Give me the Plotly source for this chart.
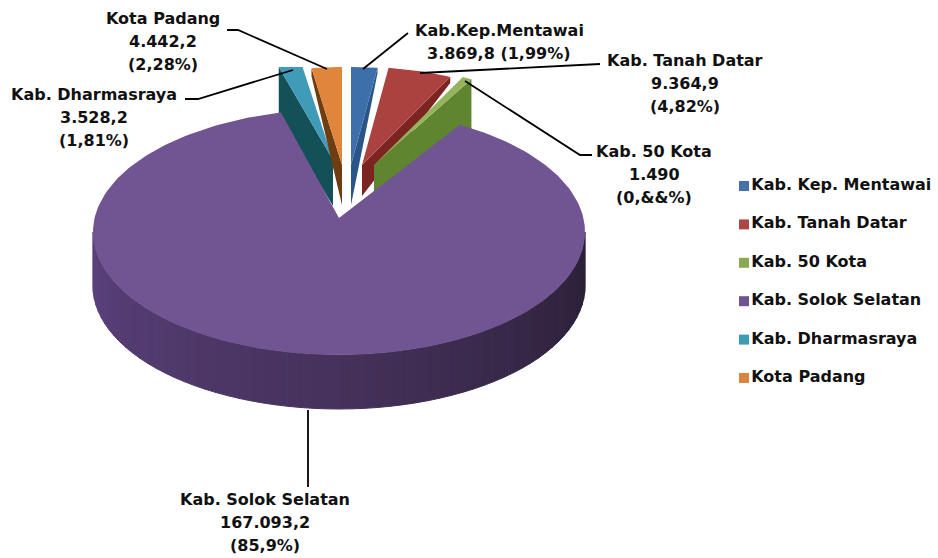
"""Pie 3D (kabupaten), proiezione ellittica calcolata dai valori."""
import numpy as np
import plotly.graph_objects as go

CATEGORIES = ["Kab. Kep. Mentawai", "Kab. Tanah Datar", "Kab. 50 Kota",
              "Kab. Solok Selatan", "Kab. Dharmasraya", "Kota Padang"]
VALUES = [3869.8, 9364.9, 1490.0, 167093.2, 3528.2, 4442.2]
LABEL_NAMES = ["Kab.Kep.Mentawai", "Kab. Tanah Datar", "Kab. 50 Kota",
               "Kab. Solok Selatan", "Kab. Dharmasraya", "Kota Padang"]
LABEL_VALUES = ["3.869,8 (1,99%)", "9.364,9", "1.490", "167.093,2", "3.528,2", "4.442,2"]
LABEL_SHARES = ["", "(4,82%)", "(0,&&%)", "(85,9%)", "(1,81%)", "(2,28%)"]

COLORS = ["#3d70aa", "#ab423f", "#94b35a", "#715592", "#3f9bb8", "#e0863c"]
SIDE_COLORS = ["#2a5588", "#7c2420", "#5f8530", "", "#145058", "#6e3d12"]
LEGEND_COLORS = ["#4672a8", "#ab4744", "#8aa84e", "#70548f", "#3f9bb3", "#dc8440"]
RIM_LEFT, RIM_MID, RIM_RIGHT = (92, 66, 126), (70, 50, 92), (42, 31, 54)

W, H = 938, 558
CX, CY, RX, RY, DEPTH = 339, 232, 246, 123, 54
APEX_Y = 218
CROP_Y = 67  # le fette esplose sono tagliate in alto
SMALL_RX, SMALL_RY = 208, 105
BIG_ROTATION = np.radians(1.5)

# fette esplose: apice (x, y), base dell'apice, spessore sul bordo
APEX_X = {0: 351, 1: 362, 2: 374, 4: 333, 5: 342}
APEX_TOP = {0: 165, 1: 165, 2: 165, 4: 160, 5: 165}
APEX_BOTTOM = {0: 205, 1: 196, 2: 196, 4: 206, 5: 205}
EDGE_DEPTH = {0: 5, 1: 6, 2: 50, 4: 50, 5: 8}

LABEL_X = [499, 685, 654, 265, 94, 163]
LABEL_Y = [30, 60, 151, 499, 94, 18]
LABEL_STEP = 23
LEADERS = [
    ([408, 363], [33, 69]),
    ([600, 420], [64, 73]),
    ([592, 580, 465], [155, 155, 81]),
    ([308, 308], [410, 487]),
    ([185, 198, 293], [99, 99, 70]),
    ([227, 238, 327], [30, 30, 69]),
]
LEGEND_X, LEGEND_Y, LEGEND_STEP = 744, 186, 38.4
FONT = "DejaVu Sans"
FONT_SIZE = 16

fractions = np.array(VALUES) / sum(VALUES)
ends = np.cumsum(fractions) * 2 * np.pi
starts = ends - fractions * 2 * np.pi


def polygon(fig, x, y, color, outline=False):
    fig.add_trace(go.Scatter(
        x=x, y=np.maximum(y, CROP_Y), mode="lines", fill="toself", fillcolor=color,
        line=dict(width=1 if outline else 0, color=color), hoverinfo="skip", showlegend=False,
    ))


def mix(a, b, t):
    return "rgb(%d,%d,%d)" % tuple(a[i] + (b[i] - a[i]) * t for i in range(3))


def exploded_slice(fig, i):
    """Una fetta esplosa: faccia laterale sotto, superficie sopra."""
    ax, ay = APEX_X[i], APEX_TOP[i]
    cy = ay + 7
    t = np.linspace(starts[i], ends[i], 16)
    arc_x = ax + SMALL_RX * np.sin(t)
    arc_y = cy - SMALL_RY * np.cos(t)
    k = -1 if i < 3 else 0  # a destra si vede il taglio destro, a sinistra il sinistro
    polygon(fig,
            [arc_x[k], ax, ax, arc_x[k], arc_x[k]],
            [arc_y[k], ay, APEX_BOTTOM[i], arc_y[k] + EDGE_DEPTH[i], arc_y[k]],
            SIDE_COLORS[i])
    polygon(fig, np.r_[ax, arc_x, ax], np.r_[ay, arc_y, ay], COLORS[i])


fig = go.Figure()

for i in (4, 5, 0, 1, 2):
    exploded_slice(fig, i)

# bordo della fetta grande, a settori per la sfumatura
edges = np.linspace(np.pi / 2, 3 * np.pi / 2, 61)
for a, b in zip(edges[:-1], edges[1:]):
    t = np.linspace(a, b, 4)
    px = CX + RX * np.sin(t)
    py = CY - RY * np.cos(t)
    pos = (a - edges[0]) / np.pi  # 0 a destra, 1 a sinistra
    shade = mix(RIM_RIGHT, RIM_MID, pos / 0.5) if pos < 0.5 else mix(RIM_MID, RIM_LEFT, (pos - 0.5) / 0.5)
    polygon(fig, np.r_[px, px[::-1], px[0]], np.r_[py, py[::-1] + DEPTH, py[0]], shade, outline=True)

t = np.linspace(starts[3] + BIG_ROTATION, ends[3] + BIG_ROTATION, 240)
polygon(fig, np.r_[CX, CX + RX * np.sin(t), CX],
        np.r_[APEX_Y, CY - RY * np.cos(t), APEX_Y], COLORS[3])

for lx, ly in LEADERS:
    fig.add_trace(go.Scatter(x=lx, y=ly, mode="lines", line=dict(color="#000000", width=1.8),
                             hoverinfo="skip", showlegend=False))

for i, name in enumerate(CATEGORIES):
    fig.add_trace(go.Scatter(
        x=[LEGEND_X], y=[LEGEND_Y + i * LEGEND_STEP], mode="markers+text",
        marker=dict(symbol="square", size=10, color=LEGEND_COLORS[i]),
        text=["<b>%s</b>" % name], textposition="middle right",
        textfont=dict(family=FONT, size=FONT_SIZE, color="#111111"),
        name=name, showlegend=False, hovertemplate="%{text}<extra></extra>",
    ))

for i in range(len(CATEGORIES)):
    lines = [LABEL_NAMES[i], LABEL_VALUES[i], LABEL_SHARES[i]]
    for j, line in enumerate(lines):
        if line:
            fig.add_annotation(
                x=LABEL_X[i], y=LABEL_Y[i] + j * LABEL_STEP, text="<b>%s</b>" % line, showarrow=False,
                font=dict(family=FONT, size=FONT_SIZE, color="#111111"),
            )

fig.update_layout(
    width=W, height=H, margin=dict(l=0, r=0, t=0, b=0),
    paper_bgcolor="#ffffff", plot_bgcolor="#ffffff", showlegend=False,
    xaxis=dict(range=[0, W], visible=False, fixedrange=True),
    yaxis=dict(range=[H, 0], visible=False, fixedrange=True),
    hovermode="closest",
)
fig.write_html("out.html", config=dict(displayModeBar=False),
               post_script="document.body.style.margin='0';document.body.style.overflow='hidden';")
